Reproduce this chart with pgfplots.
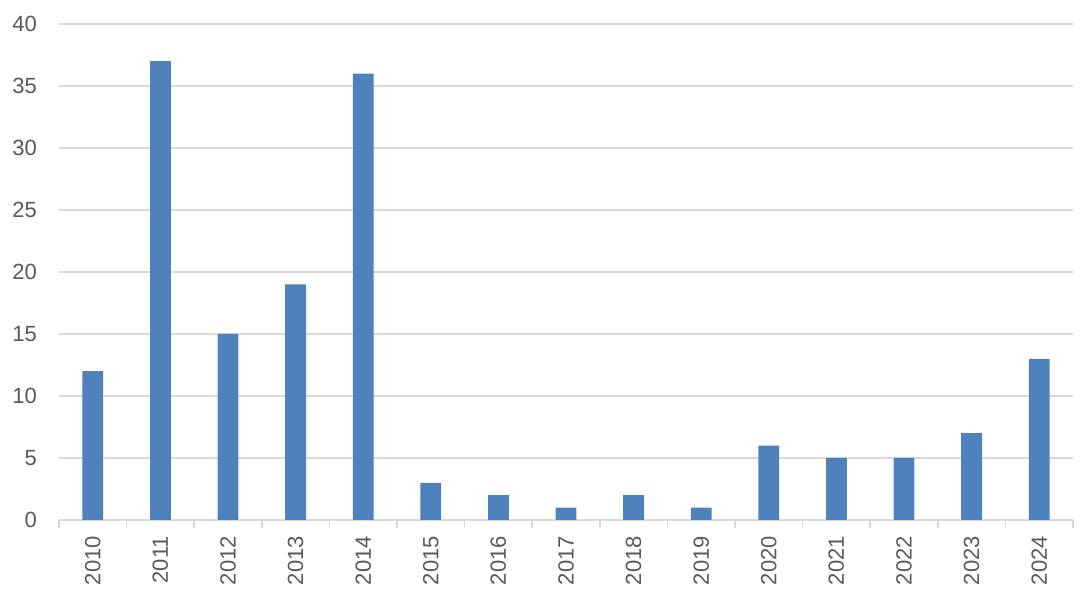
\documentclass[border=0pt]{standalone}
\usepackage{pgfplots}
\pgfplotsset{compat=1.18}
\usepackage{fontspec}
\setmainfont{Liberation Sans}
\definecolor{barblue}{HTML}{4F81BD}
\definecolor{txtgray}{HTML}{595959}
\definecolor{gridgray}{HTML}{D9D9D9}
\begin{document}
\begin{tikzpicture}
\begin{axis}[
  at={(0,0)}, anchor=south west,
  scale only axis, width=507pt, height=248pt,
  xmin=-0.5, xmax=14.5, ymin=0, ymax=40,
  ytick={0,5,...,40},
  xtick={0,...,14},
  xticklabels={2010,2011,2012,2013,2014,2015,2016,2017,2018,2019,2020,2021,2022,2023,2024},
  minor xtick={-0.5,0.5,...,14.5},
  major tick length=0pt, minor tick length=4pt,
  xtick align=outside,
  axis x line*=bottom, axis y line*=left,
  x axis line style={draw=gridgray, line width=0.75pt, -},
  y axis line style={draw=none},
  minor tick style={draw=gridgray, line width=0.75pt},
  ytick style={draw=none},
  ymajorgrids, grid style={draw=gridgray, line width=0.75pt},
  tick label style={font=\fontsize{11}{13}\selectfont, text=txtgray},
  /pgf/number format/assume math mode=true,
  x tick label style={rotate=90, anchor=east},
  xticklabel shift=4.5pt,
  yticklabel style={anchor=east},
  yticklabel shift=7.5pt,
  ybar, bar width=10.4pt,
  clip=false,
]
\addplot[fill=barblue, draw=none] coordinates {
(0,12) (1,37) (2,15) (3,19) (4,36) (5,3) (6,2) (7,1) (8,2) (9,1) (10,6) (11,5) (12,5) (13,7) (14,13)
};
\end{axis}
\pgfresetboundingbox
\path (-29.5pt,-36.5pt) rectangle (513.5pt,260pt);
\end{tikzpicture}
\end{document}
